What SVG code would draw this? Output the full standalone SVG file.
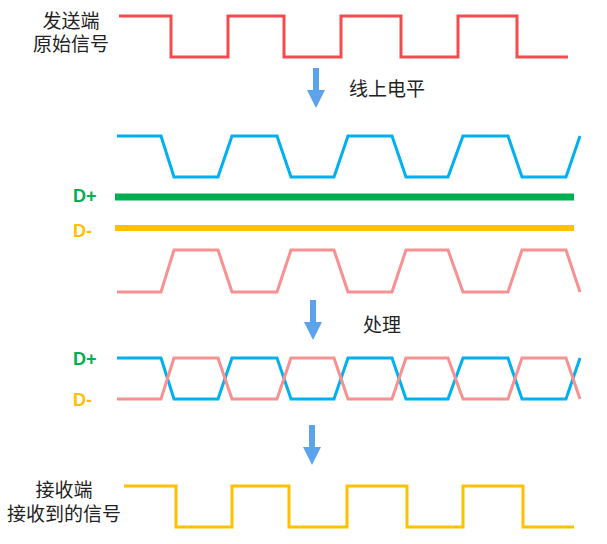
<svg xmlns="http://www.w3.org/2000/svg" width="607" height="544" viewBox="0 0 607 544">
<style>
.sig{fill:none;stroke-width:3;stroke-linejoin:miter}
.red{stroke:#F44B4E}
.blue{stroke:#00B0F0}
.pink{stroke:#F79192}
.yellow{stroke:#FFC000}
.lbl{font-family:"Liberation Sans","Noto Sans CJK SC",sans-serif;font-size:19px;fill:#222}
.dl{font-family:"Liberation Sans",Arial,sans-serif;font-size:18px;font-weight:bold}
.arrow{fill:#5BA3EC}
</style>
<defs>
<path id="arr" d="M-3,0 H3 V22 H9 L0,40 L-9,22 H-3 Z"/>
</defs>
<rect width="607" height="544" fill="#fff"/>
<g id="label-send">
<text class="lbl" x="71" y="28" text-anchor="middle">发送端</text>
<text class="lbl" x="71" y="51" text-anchor="middle">原始信号</text>
</g>
<g id="signal-send">
<path class="sig red" d="M119,16 H171 V57 H228 V16 H284 V57 H341 V16 H401 V57 H458 V16 H517 V57 H568"/>
</g>
<g id="label-line">
<text class="lbl" x="349" y="96">线上电平</text>
</g>
<g id="signal-line-blue">
<path class="sig blue" d="M117,136 H161 L174,177 H218 L232,136 H277 L291,177 H334 L348,136 H392 L406,177 H448 L463,136 H508 L522,177 H566 L580,136"/>
</g>
<g id="wire-dplus">
<text class="dl" x="73" y="202" fill="#00B050">D+</text>
<line x1="115" y1="197" x2="574" y2="197" stroke="#00B050" stroke-width="7"/>
</g>
<g id="wire-dminus">
<text class="dl" x="73" y="237" fill="#FFC000">D-</text>
<line x1="115" y1="228" x2="574" y2="228" stroke="#FFC000" stroke-width="6"/>
</g>
<g id="signal-line-pink">
<path class="sig pink" d="M117,292 H161 L174,250 H218 L232,292 H277 L291,250 H334 L348,292 H392 L406,250 H448 L463,292 H508 L522,250 H566 L580,292"/>
</g>
<g id="label-process">
<text class="lbl" x="363" y="332">处理</text>
</g>
<g id="signal-diff">
<text class="dl" x="73" y="365" fill="#00B050">D+</text>
<text class="dl" x="73" y="406" fill="#FFC000">D-</text>
<path class="sig blue" d="M117,358 H161 L174,399 H218 L232,358 H277 L291,399 H334 L348,358 H392 L406,399 H448 L463,358 H508 L522,399 H566 L580,358"/>
<path class="sig pink" d="M117,399 H161 L174,358 H218 L232,399 H277 L291,358 H334 L348,399 H392 L406,358 H448 L463,399 H508 L522,358 H566 L580,399"/>
</g>
<g id="label-recv">
<text class="lbl" x="64" y="497" text-anchor="middle">接收端</text>
<text class="lbl" x="64" y="521" text-anchor="middle">接收到的信号</text>
</g>
<g id="signal-recv">
<path class="sig yellow" d="M124,486 H176 V527 H232 V486 H289 V527 H347 V486 H407 V527 H463 V486 H523 V527 H574"/>
</g>
<g id="connectors">
<use href="#arr" class="arrow" x="316" y="68"/>
<use href="#arr" class="arrow" x="313" y="300"/>
<use href="#arr" class="arrow" x="312" y="425"/>
</g>
</svg>
